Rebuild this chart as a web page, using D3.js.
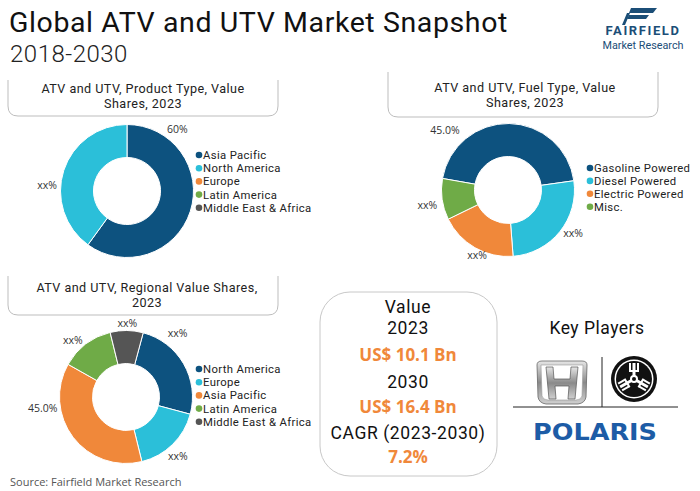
<!DOCTYPE html>
<html><head><meta charset="utf-8">
<script src="https://cdn.jsdelivr.net/npm/d3@7"></script>
<style>
html,body{margin:0;padding:0;background:#fff;}
svg{display:block;font-family:"Open Sans",sans-serif;}
</style></head>
<body>
<svg id="c" width="700" height="491"></svg>
<script>
// ---- data ----
const productCategories = ["Asia Pacific","North America","Europe","Latin America","Middle East & Africa"];
const productValues = [60, 40, 0, 0, 0];
const productLabels = ["60%", "xx%"];

const fuelCategories = ["Gasoline Powered","Diesel Powered","Electric Powered","Misc."];
const fuelValues = [45, 26, 19, 10];
const fuelLabels = ["45.0%", "xx%", "xx%", "xx%"];

const regionCategories = ["North America","Europe","Asia Pacific","Latin America","Middle East & Africa"];
const regionValues = [25, 17, 37, 13, 8];
const regionLabels = ["xx%", "xx%", "45.0%", "xx%", "xx%"];

const valueLines = ["Value","2023","US$ 10.1 Bn","2030","US$ 16.4 Bn","CAGR (2023-2030)","7.2%"];

// ---- styles ----
const DARK="#0d527f", CYAN="#2bbfd9", ORANGE="#f0883a", GREEN="#6fab47", GRAY="#555555";
const regionColor = d3.scaleOrdinal().domain(["Asia Pacific","North America","Europe","Latin America","Middle East & Africa"]).range([DARK,CYAN,ORANGE,GREEN,GRAY]);
const region3Color = d3.scaleOrdinal().domain(regionCategories).range([DARK,CYAN,ORANGE,GREEN,GRAY]);
const fuelColor = d3.scaleOrdinal().domain(fuelCategories).range([DARK,CYAN,ORANGE,GREEN]);

const svg = d3.select("#c");
const deg = Math.PI/180;
const RB = "Roboto, sans-serif";

// Title
svg.append("text").attr("x",9).attr("y",32).attr("font-size",28.5).attr("fill","#111")
  .attr("font-family",RB).attr("letter-spacing",0.6).text("Global ATV and UTV Market Snapshot");
svg.append("text").attr("x",10).attr("y",62).attr("font-size",24).attr("fill","#222")
  .attr("font-family",RB).attr("font-weight",300).attr("letter-spacing",0.5).text("2018-2030");

// Logo
const logo = svg.append("g").attr("fill","#1b4e77");
logo.append("path").attr("d","M631,8 L657,8 L653,13 L629,13 Z");
logo.append("path").attr("d","M629,15 L649,15 L646,19 L627,19 Z");
logo.append("path").attr("d","M627,13 L630,13 L625,25 L622,25 Z");
svg.append("text").attr("x",643).attr("y",35).attr("text-anchor","middle").attr("font-size",13)
  .attr("font-family",RB).attr("font-weight",700).attr("fill","#1b4e77").attr("letter-spacing",1.6).text("FAIRFIELD");
svg.append("text").attr("x",643).attr("y",49).attr("text-anchor","middle").attr("font-size",10.8)
  .attr("font-family",RB).attr("fill","#1b4e77").text("Market Research");

// Header boxes (open top)
function headerBox(x0,x1,y0,y1,lines,cx,ys){
  const r=10;
  svg.append("path").attr("fill","none").attr("stroke","#bdbdbd").attr("stroke-width",1)
    .attr("d",`M${x0},${y0} L${x0},${y1-r} Q${x0},${y1} ${x0+r},${y1} L${x1-r},${y1} Q${x1},${y1} ${x1},${y1-r} L${x1},${y0}`);
  lines.forEach((t,i)=>svg.append("text").attr("x",cx).attr("y",ys[i]).attr("dy","0.35em")
    .attr("text-anchor","middle").attr("font-size",12.6).attr("font-family",RB)
    .attr("letter-spacing",0.45).attr("fill","#222").text(t));
}
headerBox(8,278,80,116,["ATV and UTV, Product Type, Value","Shares, 2023"],143,[89,104]);
headerBox(388,658,72,117,["ATV and UTV, Fuel Type, Value","Shares, 2023"],525,[88,103]);
headerBox(8,278,276,315,["ATV and UTV, Regional Value Shares,","2023"],147,[288,303]);

// Donut helper
function donut(cx,cy,cats,vals,color,startDeg,labels,labelPos){
  const g = svg.append("g").attr("transform",`translate(${cx},${cy})`);
  const data = cats.map((c,i)=>({cat:c,v:vals[i]}));
  const pie = d3.pie().sort(null).value(d=>d.v).startAngle(startDeg*deg).endAngle((startDeg+360)*deg);
  const arc = d3.arc().innerRadius(33.5).outerRadius(66.5);
  g.selectAll("path").data(pie(data).filter(d=>d.data.v>0)).join("path")
    .attr("d",arc).attr("fill",d=>color(d.data.cat)).attr("stroke","#fff").attr("stroke-width",1);
  labels.forEach((t,i)=>{
    const [a,r]=labelPos[i];
    g.append("text").attr("x",Math.sin(a*deg)*r).attr("y",-Math.cos(a*deg)*r).attr("dy","0.35em")
      .attr("text-anchor","middle").attr("font-size",10.5).attr("fill","#333").text(t);
  });
}
function legend(x,y0,step,cats,color){
  cats.forEach((c,i)=>{
    const y=y0+i*step;
    svg.append("circle").attr("cx",x).attr("cy",y).attr("r",3.3).attr("fill",color(c));
    svg.append("text").attr("x",x+4).attr("y",y).attr("dy","0.35em").attr("font-size",11.3)
      .attr("font-family",RB).attr("letter-spacing",0.35)
      .attr("fill","#222").text(c);
  });
}

donut(127,191,productCategories,productValues,regionColor,0,productLabels,[[39,80],[274,80]]);
legend(199,155,13.2,productCategories,regionColor);

donut(508,190,fuelCategories,fuelValues,fuelColor,-80,fuelLabels,[[313.6,87],[123.5,78],[205.5,72],[259.5,82]]);
legend(590,168,12.9,fuelCategories,fuelColor);

donut(126,397,regionCategories,regionValues,region3Color,15,regionLabels,[[39,82],[139,79],[262.5,84],[317,78],[1,74]]);
legend(199,369,13.2,regionCategories,region3Color);

// Source
svg.append("text").attr("x",10).attr("y",482).attr("dy","0.35em").attr("font-size",11).attr("fill","#555")
  .text("Source: Fairfield Market Research");

// Value box
svg.append("rect").attr("x",320).attr("y",292).attr("width",177).attr("height",184).attr("rx",30)
  .attr("fill","none").attr("stroke","#c8c8c8");
const vy=[307,328,355,382,407,433,457];
valueLines.forEach((t,i)=>{
  const bold = /US\$|%/.test(t);
  svg.append("text").attr("x",408).attr("y",vy[i]).attr("dy","0.35em").attr("text-anchor","middle")
    .attr("font-family", bold ? "'Open Sans', sans-serif" : RB)
    .attr("letter-spacing", bold ? 0 : 0.6)
    .attr("font-size",bold?17:17.5).attr("font-weight",bold?700:400).attr("fill",bold?ORANGE:"#111").text(t);
});

// Key players
svg.append("text").attr("x",597).attr("y",328).attr("dy","0.35em").attr("text-anchor","middle")
  .attr("font-size",17.5).attr("font-family",RB).attr("letter-spacing",0.5).attr("fill","#111").text("Key Players");
svg.append("line").attr("x1",513).attr("x2",678).attr("y1",407).attr("y2",407).attr("stroke","#222");
svg.append("line").attr("x1",602).attr("x2",602).attr("y1",357).attr("y2",407).attr("stroke","#222");

// Honda-like emblem
const defs = svg.append("defs");
const gr = defs.append("linearGradient").attr("id","chrome").attr("x1",0).attr("y1",0).attr("x2",0).attr("y2",1);
gr.append("stop").attr("offset","0").attr("stop-color","#e6e6e6");
gr.append("stop").attr("offset","0.5").attr("stop-color","#8a8a8a");
gr.append("stop").attr("offset","1").attr("stop-color","#d0d0d0");
const h = svg.append("g").attr("transform","translate(562,383)");
h.append("path").attr("d","M-25,-18 Q-25,-22 -20,-22 L20,-22 Q25,-22 25,-18 L24,14 Q23,20 16,21 L-16,21 Q-23,20 -24,14 Z")
  .attr("fill","url(#chrome)").attr("stroke","#666").attr("stroke-width",0.8);
h.append("path").attr("d","M-21,-18 L21,-18 L20,13 Q19,17 14,17 L-14,17 Q-19,17 -20,13 Z").attr("fill","#fff").attr("stroke","#999").attr("stroke-width",0.6);
h.append("path").attr("d","M-16,-16 L-9,-16 L-8,-4 L8,-4 L9,-16 L16,-16 L13,16 L6,16 L7,3 L-7,3 L-6,16 L-13,16 Z")
  .attr("fill","url(#chrome)").attr("stroke","#555").attr("stroke-width",0.7);

// Yamaha-like emblem
const y = svg.append("g").attr("transform","translate(634,379)");
y.append("circle").attr("r",23).attr("fill","#111");
y.append("circle").attr("r",19.5).attr("fill","#fff");
y.append("circle").attr("r",18).attr("fill","#111");
[0,120,240].forEach(a=>{
  const f=y.append("g").attr("transform",`rotate(${a})`);
  f.append("rect").attr("x",-1.5).attr("y",-16).attr("width",3).attr("height",14).attr("fill","#fff");
  f.append("rect").attr("x",-5).attr("y",-16).attr("width",2).attr("height",8).attr("fill","#fff");
  f.append("rect").attr("x",3).attr("y",-16).attr("width",2).attr("height",8).attr("fill","#fff");
  f.append("rect").attr("x",-5).attr("y",-9).attr("width",10).attr("height",2).attr("fill","#fff");
});
y.append("circle").attr("r",4).attr("fill","#fff");
y.append("circle").attr("r",2).attr("fill","#111");

// Polaris wordmark
svg.append("text").attr("x",595).attr("y",432).attr("dy","0.35em").attr("text-anchor","middle")
  .attr("font-size",23).attr("font-weight",900).attr("fill","#1d5ca6")
  .attr("textLength",124).attr("lengthAdjust","spacingAndGlyphs").attr("font-family","'DejaVu Sans', sans-serif").text("POLARIS");
</script>
</body></html>
